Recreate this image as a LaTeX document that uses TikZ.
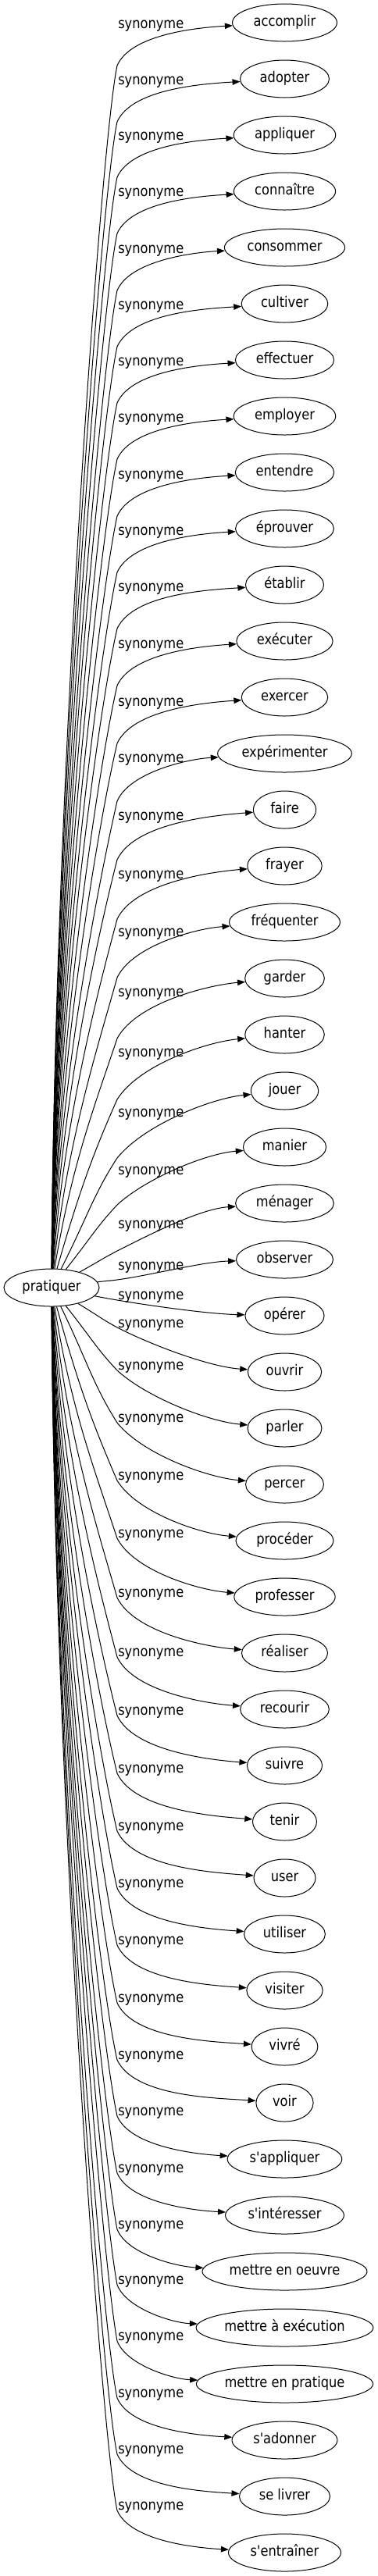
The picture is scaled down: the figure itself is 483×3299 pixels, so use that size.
\documentclass[tikz,border=0pt]{standalone}
\usepackage{fontspec}
\newfontfamily\gvfont{DejaVu Sans}[FakeStretch=0.87]
\usetikzlibrary{arrows.meta,calc,shapes.geometric}
\newlength\wordw
\newcommand\gvsize{\gvfont\fontsize{14pt}{17pt}\selectfont}

\begin{document}
\begin{tikzpicture}[
    x=0.75pt, y=-0.75pt,
    every node/.style={font=\gvsize},
    word/.style={draw, ellipse, line width=0.75pt, inner sep=0pt,
      minimum height=36pt, text height=0.8em, text depth=0.2em},
    rel/.style={anchor=base west, inner sep=0pt},
    syn/.style={line width=0.75pt, -{Triangle[length=7.5pt,width=5.6pt]}},
  ]
  \useasboundingbox (0,0) rectangle (483,3299);
  \node[word, minimum width=91.5pt] (pratiquer) at (66,1649) {pratiquer};
  % index / word / label height / drop of the bend below the label
  \foreach \i/\txt/\lab/\dk in {
      0/accomplir/29/55, 1/adopter/101/55, 2/appliquer/172/55,
      3/connaître/244/55, 4/consommer/317/55, 5/cultiver/389/55,
      6/effectuer/461/55, 7/employer/533/55, 8/entendre/606/55,
      9/éprouver/678/55, 10/établir/750/55, 11/exécuter/823/55,
      12/exercer/897/55, 13/expérimenter/969/57, 14/faire/1043/58,
      15/frayer/1118/59, 16/fréquenter/1192/60, 17/garder/1269/61,
      18/hanter/1346/62, 19/jouer/1423/60, 20/manier/1497/46,
      21/ménager/1566/36, 22/observer/1619/20, 23/opérer/1657/8,
      24/ouvrir/1693/7, 25/parler/1747/8, 26/percer/1814/8,
      27/procéder/1888/8, 28/professer/1962/8, 29/réaliser/2038/8,
      30/recourir/2114/8, 31/suivre/2189/8, 32/tenir/2263/8,
      33/user/2337/8, 34/utiliser/2410/8, 35/visiter/2483/8,
      36/vivré/2557/8, 37/voir/2630/8, 38/s'appliquer/2702/8,
      39/s'intéresser/2775/8, 40/mettre en oeuvre/2847/8,
      41/mettre à exécution/2918/8, 42/mettre en pratique/2990/8,
      43/s'adonner/3063/8, 44/se livrer/3135/8,
      45/s'entraîner/3207/8} {
    \pgfinterruptpicture
      \settowidth{\wordw}{\gvsize\txt}\global\wordw=\wordw
    \endpgfinterruptpicture
    \pgfmathsetmacro\W{1.243*\wordw/0.75+35}
    \pgfmathsetmacro\Wpt{0.75*\W}
    \pgfmathsetmacro\Y{29+72*\i}
    \node[word, minimum width=\Wpt pt] (n\i) at (364.5,\Y) {\txt};
    \node[rel] (s\i) at (151,\lab+7.5) {synonyme};
    % bend of the edge, just left of the label
    \pgfmathsetmacro\Ky{\lab+\dk}
    \pgfmathsetmacro\dy{1649-\Ky}
    \pgfmathsetmacro\dx{84*min(1,200/abs(\dy))}
    \pgfmathsetmacro\aO{atan2(\dy,\dx)}
    \pgfmathtruncatemacro\aOi{round(\aO)}
    \pgfmathsetmacro\Tx{364.5-\W/2}
    \pgfmathsetmacro\aT{atan2(\Ky-\Y,\Tx-150)}
    \pgfmathsetmacro\bK{(2*\aO+\aT)/3}
    \pgfmathsetmacro\bI{(\aO+\bK)/2}
    \pgfmathsetmacro\gE{0.4*\aT}
    \pgfmathsetmacro\ctlA{0.4*veclen(84,\dy)}
    \pgfmathsetmacro\ctlB{min(0.3*veclen(84,\dy),100)}
    \pgfmathsetmacro\ctlC{0.28*veclen(\Tx-150,\Ky-\Y)}
    \draw[syn] (pratiquer.\aOi)
      .. controls ($(pratiquer.\aOi)+({\ctlA*cos(\aO)},{-\ctlA*sin(\aO)})$)
      and ({150-\ctlB*cos(\bI)},{\Ky+\ctlB*sin(\bI)}) .. (150,\Ky)
      .. controls ({150+\ctlC*cos(\bK)},{\Ky-\ctlC*sin(\bK)})
      and ({\Tx-\ctlC*cos(\gE)},{\Y+\ctlC*sin(\gE)}) .. (n\i);
  }
\end{tikzpicture}
\end{document}
